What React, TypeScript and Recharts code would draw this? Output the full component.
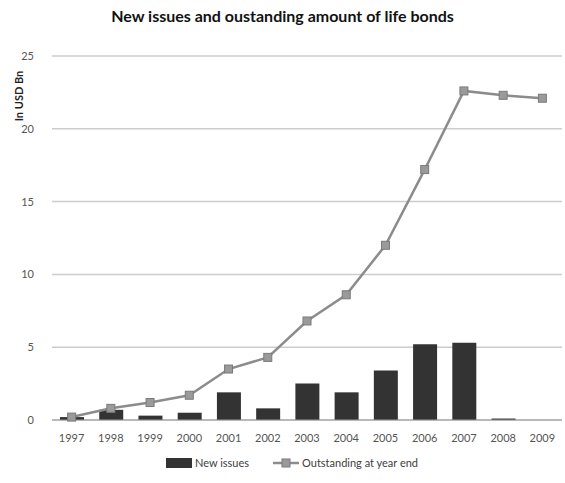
import { ComposedChart, Bar, Line, XAxis, YAxis, CartesianGrid, Legend } from "recharts";

const years = ["1997", "1998", "1999", "2000", "2001", "2002", "2003", "2004", "2005", "2006", "2007", "2008", "2009"];
const newIssues = [0.2, 0.7, 0.3, 0.5, 1.9, 0.8, 2.5, 1.9, 3.4, 5.2, 5.3, 0.1, 0];
const outstanding = [0.2, 0.8, 1.2, 1.7, 3.5, 4.3, 6.8, 8.6, 12.0, 17.2, 22.6, 22.3, 22.1];
const yTicks = [0, 5, 10, 15, 20, 25];

const data = years.map((y, i) => ({ year: y, issues: newIssues[i], outstanding: outstanding[i] }));

const FONT = "Lato, 'Open Sans', sans-serif";
const BAR = "#333333";
const LINE = "#8c8c8c";

function SquareDot(props: any) {
  const { cx, cy } = props;
  if (cx == null || cy == null) return null;
  return <rect x={cx - 4} y={cy - 4} width={8} height={8} fill="#9a9a9a" stroke="#7a7a7a" strokeWidth={1} />;
}

function LegendBox() {
  return (
    <div style={{ display: "flex", justifyContent: "center", alignItems: "center", fontSize: 11, color: "#404040", fontFamily: FONT }}>
      <span style={{ display: "inline-block", width: 26, height: 10, background: BAR, marginRight: 3 }} />
      <span style={{ marginRight: 24 }}>New issues</span>
      <svg width={26} height={10} style={{ marginRight: 3 }}>
        <line x1={0} y1={5} x2={26} y2={5} stroke={LINE} strokeWidth={2.5} />
        <rect x={9} y={1} width={8} height={8} fill="#9a9a9a" stroke="#7a7a7a" />
      </svg>
      <span>Outstanding at year end</span>
    </div>
  );
}

export default function App() {
  return (
    <div style={{ position: "relative", width: 565, height: 483, background: "#fff", fontFamily: FONT }}>
      <style>{"body{margin:0}"}</style>
      <div style={{ position: "absolute", top: 6, left: 0, width: 565, textAlign: "center", fontSize: 16, fontWeight: 700, color: "#111" }}>
        New issues and oustanding amount of life bonds
      </div>
      <div style={{ position: "absolute", left: 18, top: 96, transform: "translate(-50%, -50%) rotate(-90deg)", fontSize: 11, fontWeight: 700, color: "#222", whiteSpace: "nowrap" }}>
        In USD Bn
      </div>
      <ComposedChart width={565} height={483} data={data} margin={{ top: 56, right: 3, left: 22, bottom: 7 }}>
        <CartesianGrid vertical={false} stroke="#cccccc" strokeWidth={1.5} />
        <XAxis dataKey="year" tick={{ fontSize: 11, fill: "#555", fontFamily: FONT }} tickLine={false} axisLine={{ stroke: "#999" }} height={36} tickMargin={8} />
        <YAxis domain={[0, 25]} ticks={yTicks} width={30} tick={{ fontSize: 11, fill: "#555", fontFamily: FONT }} tickLine={false} axisLine={false} tickMargin={12} />
        <Legend verticalAlign="bottom" height={20} content={() => <LegendBox />} />
        <Bar dataKey="issues" fill={BAR} barSize={24} isAnimationActive={false} />
        <Line dataKey="outstanding" stroke={LINE} strokeWidth={2.5} dot={<SquareDot />} activeDot={false} isAnimationActive={false} />
      </ComposedChart>
    </div>
  );
}
